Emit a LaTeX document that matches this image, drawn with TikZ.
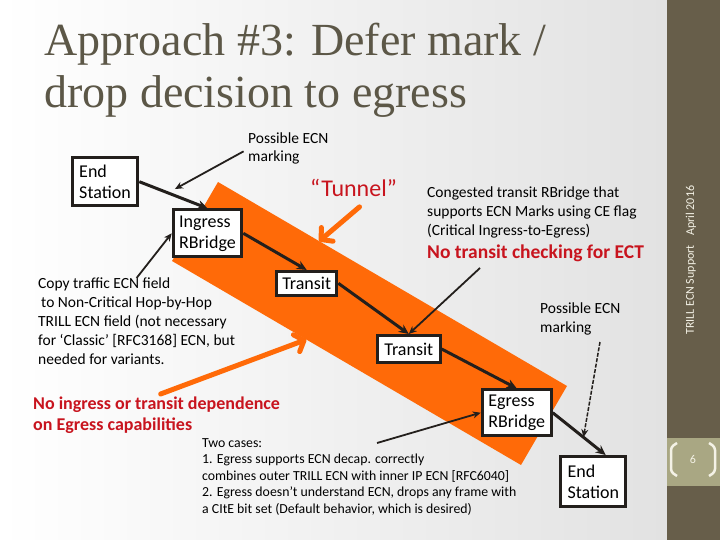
\documentclass[tikz,border=0pt]{standalone}
\usepackage{fontspec}
\setmainfont{Carlito}
\newfontfamily\titlefont{Liberation Serif}
\usetikzlibrary{arrows.meta, calc}
\definecolor{trSide}{HTML}{675E4A}
\definecolor{trNum}{HTML}{A9A783}
\definecolor{trTitle}{HTML}{5C5747}
\definecolor{trOrange}{HTML}{FF6A08}
\definecolor{trRed}{HTML}{C8141E}
\definecolor{trInk}{HTML}{231F1C}
\definecolor{trBg}{HTML}{E2E2E2}
\definecolor{trCream}{HTML}{F4F2E6}

\begin{document}
\begin{tikzpicture}[x=1pt, y=-1pt,
  rbox/.style={draw=trInk, fill=white, line width=3pt, align=left, inner sep=0pt,
    font=\fontsize{18}{21}\selectfont},
  flow/.style={draw=trInk, line width=3pt, -{Stealth[length=10pt, width=9pt]}},
  note/.style={draw=trInk, line width=1.8pt, -{Stealth[length=8pt, width=7pt]}},
  hint/.style={draw=trOrange, line width=5pt, line cap=round,
    -{Straight Barb[length=8pt, width=18pt, round]}},
  txt/.style={anchor=north west, inner sep=0pt, align=left}]
  \useasboundingbox (0,0) rectangle (720,540);
  \shade[left color=white, right color=trBg] (0,0) rectangle (667,540);
  \fill[trSide] (667,0) rectangle (720,540);
  \fill[trNum] (667,438) rectangle (720,486);
  \draw[trCream, line width=2.5pt, rounded corners=3pt] (677,443) -- (671,447) -- (671,472) -- (677,476);
  \draw[trCream, line width=2.5pt, rounded corners=3pt] (709,443) -- (715,447) -- (715,472) -- (709,476);
  \node[text=trCream, font=\fontsize{12}{14}\selectfont] (page) at (693,459) {6};
  \node[rotate=90, anchor=west, inner sep=0pt, text=trCream, font=\fontsize{12}{14}\selectfont] (foot) at (691,335) {TRILL ECN Support};
  \node[rotate=90, anchor=west, inner sep=0pt, text=trCream, font=\fontsize{12}{14}\selectfont] (date) at (691,236) {April 2016};

  % tunnel band
  \coordinate (bA) at (218,182);
  \coordinate (bB) at (567,386);
  \coordinate (bC) at (521,465);
  \coordinate (bD) at (172,261);
  \fill[trOrange] (bA) -- (bB) -- (bC) -- (bD) -- cycle;
  \coordinate (t2) at ($(bA)!0.29!(bB)$);
  \coordinate (n2) at ($(bD)!0.385!(bC)$);

  \node[txt, text=trTitle, font=\titlefont\fontsize{46}{52}\selectfont] (title) at (44,23)
    {Approach \#3: Defer mark /\\drop decision to egress};

  \node[rbox, minimum width=65.6pt, minimum height=48.3pt] (es1) at (105,181.7) {End\\Station};
  \node[rbox, minimum width=68.6pt, minimum height=47pt] (ing) at (207.5,233.3) {Ingress\\RBridge};
  \node[rbox, minimum width=60.3pt, minimum height=23.7pt] (tr1) at (306.7,283.3) {Transit};
  \node[rbox, minimum width=62.7pt, minimum height=27pt] (tr2) at (408.8,349) {Transit};
  \node[rbox, minimum width=69pt, minimum height=45.7pt] (eg) at (516.7,412.7) {Egress\\RBridge};
  \node[rbox, minimum width=65pt, minimum height=50.3pt] (es2) at (593.3,481.7) {End\\Station};

  \node[txt, font=\fontsize{15.5}{18}\selectfont] (pecn1) at (248,133) {Possible ECN\\marking};
  \node[txt, text=trRed, font=\fontsize{24}{28}\selectfont] (tunnel) at (310,179) {“Tunnel”};
  \node[txt, font=\fontsize{15.5}{19}\selectfont] (cong) at (427,187)
    {Congested transit RBridge that\\supports ECN Marks using CE flag\\(Critical Ingress-to-Egress)};
  \node[txt, text=trRed, font=\bfseries\fontsize{19.5}{22}\selectfont] (ect) at (427,245) {No transit checking for ECT};
  \node[txt, font=\fontsize{15.5}{19}\selectfont] (copy) at (38,278)
    {Copy traffic ECN field\\\hspace{3pt}to Non-Critical Hop-by-Hop\\TRILL ECN field (not necessary\\for ‘Classic’ [RFC3168] ECN, but\\needed for variants.};
  \node[txt, text=trRed, font=\bfseries\fontsize{18}{20.5}\selectfont] (noing) at (33,397)
    {No ingress or transit dependence\\on Egress capabilities};
  \node[txt, font=\fontsize{15.5}{19}\selectfont] (pecn2) at (540,303) {Possible ECN\\marking};
  \node[txt, font=\fontsize{13.8}{16.5}\selectfont] (cases) at (202,438)
    {Two cases:\\1. Egress supports ECN decap. correctly\\combines outer TRILL ECN with inner IP ECN [RFC6040]\\2. Egress doesn't understand ECN, drops any frame with\\a CItE bit set (Default behavior, which is desired)};

  \coordinate (c2) at (480,268);
  \coordinate (c3) at (600,342);
  \coordinate (c4) at (377,443);

  \draw[hint] ($(tunnel.south)+(6,10)$) -- (t2);
  \draw[hint] ($(noing.north)+(4,-3)$) -- (n2);

  \draw[flow] (es1.east) -- coordinate[pos=0.42] (m1) (ing.north);
  \draw[flow] (ing.east) -- (tr1.north);
  \draw[flow] (tr1.east) -- (tr2.north);
  \draw[flow] (tr2.east) -- (eg.north);
  \draw[flow] (eg.east) -- coordinate[pos=0.58] (m2) (es2.65);

  \draw[note, shorten <=5pt, shorten >=8pt] (pecn1.west) -- (m1);
  \draw[note] (copy.north) -- (ing.west);
  \draw[note] (c2) -- (tr2.north);
  \draw[note, line width=1.5pt, dash pattern=on 4pt off 1.5pt] (c3) -- (m2);
  \draw[note] (c4) -- (eg.west);
\end{tikzpicture}
\end{document}
